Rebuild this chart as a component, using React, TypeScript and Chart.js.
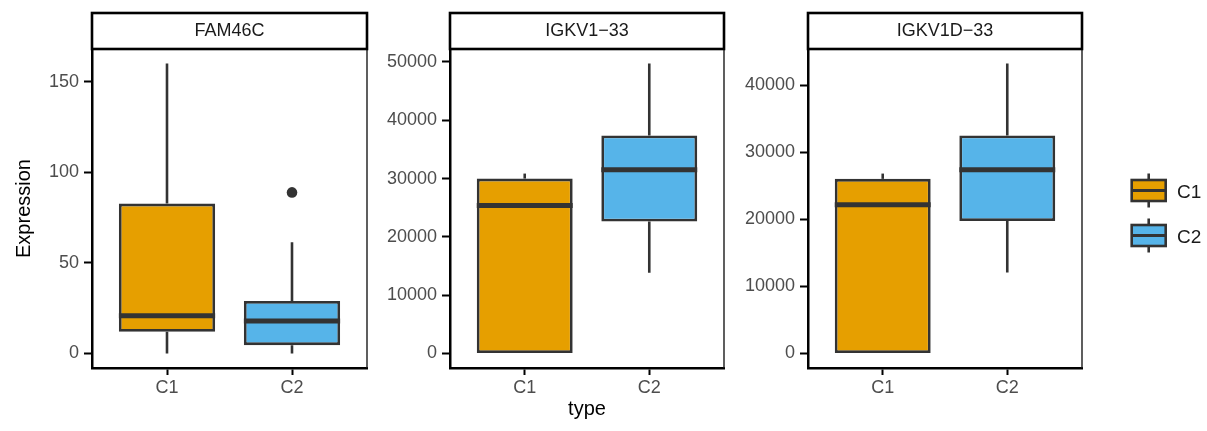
import React, { useEffect, useRef } from 'react';
import { Chart, registerables } from 'chart.js';

Chart.register(...registerables);

// ---------------- data ----------------
const categories = ['C1', 'C2'];
const genes = ['FAM46C', 'IGKV1\u221233', 'IGKV1D\u221233'];
const fillColors = ['#E69F00', '#56B4E9'];

// box-plot statistics per gene, in category order [C1, C2]
const whiskerLow = [[0, 0], [0, 13870], [0, 12070]];
const q1Values = [[12, 4.6], [0, 22650], [0, 19760]];
const medianValues = [[20.8, 17.9], [25400, 31500], [22200, 27400]];
const q3Values = [[82.8, 29], [30000, 37400], [26050, 32530]];
const whiskerHigh = [[160.2, 61.5], [30860, 49740], [26840, 43260]];
const outlierValues = [[[], [89]], [[], []], [[], []]];

const yTickValues = [
  [0, 50, 100, 150],
  [0, 10000, 20000, 30000, 40000, 50000],
  [0, 10000, 20000, 30000, 40000],
];

// ---------------- layout ----------------
const W = 1207;
const H = 431;
const PANEL_TOP = 49;
const PANEL_BOTTOM = 368;
const STRIP_TOP = 13;
const X_AXIS_H = 53;
const panels = [
  { canvasLeft: 0, canvasWidth: 375, left: 92, right: 367 },
  { canvasLeft: 375, canvasWidth: 358, left: 450, right: 724 },
  { canvasLeft: 733, canvasWidth: 474, left: 808, right: 1082 },
];

const FONT = "'Liberation Sans', Arial, Helvetica, sans-serif";
const OUTLINE = '#333333';

function makePlugin(i: number) {
  return {
    id: 'facetDecor' + i,
    beforeDatasetsDraw(chart: any) {
      const { ctx, chartArea } = chart;
      const xs = chart.scales.x;
      const ys = chart.scales.y;
      ctx.save();
      // thin panel frame (right side)
      ctx.strokeStyle = '#1a1a1a';
      ctx.lineWidth = 1.4;
      ctx.beginPath();
      ctx.moveTo(chartArea.right, chartArea.top);
      ctx.lineTo(chartArea.right, chartArea.bottom);
      ctx.stroke();
      // whiskers
      ctx.strokeStyle = OUTLINE;
      ctx.lineWidth = 2.6;
      categories.forEach((_, j) => {
        const x = xs.getPixelForValue(j + 1);
        ctx.beginPath();
        ctx.moveTo(x, ys.getPixelForValue(whiskerLow[i][j]));
        ctx.lineTo(x, ys.getPixelForValue(q1Values[i][j]));
        ctx.moveTo(x, ys.getPixelForValue(q3Values[i][j]));
        ctx.lineTo(x, ys.getPixelForValue(whiskerHigh[i][j]));
        ctx.stroke();
      });
      ctx.restore();
    },
    afterDatasetsDraw(chart: any) {
      const { ctx } = chart;
      const ys = chart.scales.y;
      const meta = chart.getDatasetMeta(0);
      ctx.save();
      ctx.strokeStyle = OUTLINE;
      ctx.lineWidth = 5;
      categories.forEach((_, j) => {
        const bar: any = meta.data[j];
        const y = ys.getPixelForValue(medianValues[i][j]);
        ctx.beginPath();
        ctx.moveTo(bar.x - bar.width / 2, y);
        ctx.lineTo(bar.x + bar.width / 2, y);
        ctx.stroke();
      });
      ctx.restore();
    },
    afterDraw(chart: any) {
      const { ctx, chartArea } = chart;
      ctx.save();
      // strip
      const sx = chartArea.left;
      const sw = chartArea.right - chartArea.left;
      ctx.fillStyle = '#ffffff';
      ctx.fillRect(sx, STRIP_TOP, sw, PANEL_TOP - STRIP_TOP);
      ctx.strokeStyle = '#000000';
      ctx.lineWidth = 2.6;
      ctx.strokeRect(sx, STRIP_TOP, sw, PANEL_TOP - STRIP_TOP);
      ctx.fillStyle = '#1a1a1a';
      ctx.font = `18px ${FONT}`;
      ctx.textAlign = 'center';
      ctx.textBaseline = 'middle';
      ctx.fillText(genes[i], sx + sw / 2, (STRIP_TOP + PANEL_TOP) / 2 + 0.5);

      // legend in the last panel
      if (i === panels.length - 1) {
        const keyCx = chartArea.right + 66.7;
        const keyW = 34;
        const keyH = 21;
        const whisk = 17;
        const keyCenters = [190.5, 235.5];
        categories.forEach((c, j) => {
          const cy = keyCenters[j];
          ctx.strokeStyle = OUTLINE;
          ctx.lineWidth = 2.6;
          ctx.beginPath();
          ctx.moveTo(keyCx, cy - whisk);
          ctx.lineTo(keyCx, cy + whisk);
          ctx.stroke();
          ctx.fillStyle = fillColors[j];
          ctx.fillRect(keyCx - keyW / 2, cy - keyH / 2, keyW, keyH);
          ctx.lineWidth = 2.6;
          ctx.strokeRect(keyCx - keyW / 2, cy - keyH / 2, keyW, keyH);
          ctx.lineWidth = 3;
          ctx.beginPath();
          ctx.moveTo(keyCx - keyW / 2, cy);
          ctx.lineTo(keyCx + keyW / 2, cy);
          ctx.stroke();
          ctx.fillStyle = '#1a1a1a';
          ctx.font = `19px ${FONT}`;
          ctx.textAlign = 'left';
          ctx.textBaseline = 'middle';
          ctx.fillText(c, chartArea.right + 95, cy + 2);
        });
      }
      ctx.restore();
    },
  };
}

function PanelChart({ index }: { index: number }) {
  const ref = useRef<HTMLCanvasElement | null>(null);
  const p = panels[index];

  useEffect(() => {
    if (!ref.current) return;
    const lo = Math.min(...whiskerLow[index], ...outlierValues[index].flat());
    const hi = Math.max(...whiskerHigh[index], ...outlierValues[index].flat());
    const pad = (hi - lo) * 0.05;

    const outlierPoints: { x: number; y: number }[] = [];
    outlierValues[index].forEach((vals, j) => vals.forEach((v) => outlierPoints.push({ x: j + 1, y: v })));

    const chart = new Chart(ref.current, {
      type: 'bar',
      data: {
        datasets: [
          {
            type: 'bar',
            label: 'box',
            data: categories.map((_, j) => ({ x: j + 1, y: [q1Values[index][j], q3Values[index][j]] })) as any,
            backgroundColor: fillColors,
            borderColor: OUTLINE,
            borderWidth: 2.8,
            borderSkipped: false,
            barPercentage: 0.77,
            categoryPercentage: 1,
          } as any,
          {
            type: 'scatter',
            label: 'outliers',
            data: outlierPoints,
            pointRadius: 5.3,
            pointBackgroundColor: OUTLINE,
            pointBorderWidth: 0,
          } as any,
        ],
      },
      options: {
        animation: false,
        responsive: false,
        devicePixelRatio: 1,
        layout: {
          padding: {
            top: PANEL_TOP,
            bottom: H - PANEL_BOTTOM - X_AXIS_H,
            left: 0,
            right: p.canvasLeft + p.canvasWidth - p.right,
          },
        },
        plugins: { legend: { display: false }, tooltip: { enabled: false } },
        scales: {
          x: {
            type: 'linear',
            offset: false,
            min: 0.4,
            max: 2.6,
            afterBuildTicks: (s: any) => {
              s.ticks = categories.map((_, j) => ({ value: j + 1 }));
            },
            afterFit: (s: any) => {
              s.height = X_AXIS_H;
            },
            ticks: {
              callback: (_v: any, idx: number) => categories[idx],
              font: { size: 18, family: FONT },
              color: '#4D4D4D',
              padding: 2,
              maxRotation: 0,
            },
            grid: {
              offset: false,
              drawOnChartArea: false,
              drawTicks: true,
              tickLength: 7,
              tickWidth: 2,
              tickColor: '#000',
            },
            border: { display: true, color: '#000', width: 2.5 },
            title: {
              display: index === 1,
              text: 'type',
              font: { size: 20, family: FONT },
              color: '#000',
              padding: { top: 0, bottom: 0 },
            },
          },
          y: {
            type: 'linear',
            min: lo - pad,
            max: hi + pad,
            afterBuildTicks: (s: any) => {
              s.ticks = yTickValues[index].map((v) => ({ value: v }));
            },
            afterFit: (s: any) => {
              s.width = p.left - p.canvasLeft;
            },
            ticks: {
              callback: (v: any) => String(v),
              font: { size: 18, family: FONT },
              color: '#4D4D4D',
              padding: 5,
            },
            grid: { drawOnChartArea: false, drawTicks: true, tickLength: 8, tickWidth: 2, tickColor: '#000' },
            border: { display: true, color: '#000', width: 2.5 },
            title: {
              display: index === 0,
              text: 'Expression',
              font: { size: 20, family: FONT },
              color: '#000',
              padding: { top: 12, bottom: 0 },
            },
          },
        },
      } as any,
      plugins: [makePlugin(index)],
    });
    return () => chart.destroy();
  }, [index]);

  return (
    <canvas
      ref={ref}
      width={p.canvasWidth}
      height={H}
      style={{ position: 'absolute', left: p.canvasLeft, top: 0, width: p.canvasWidth, height: H, display: 'block' }}
    />
  );
}

export default function App() {
  return (
    <div style={{ position: 'fixed', left: 0, top: 0, width: W, height: H, background: '#ffffff', overflow: 'hidden' }}>
      {panels.map((_, i) => (
        <PanelChart key={i} index={i} />
      ))}
    </div>
  );
}
